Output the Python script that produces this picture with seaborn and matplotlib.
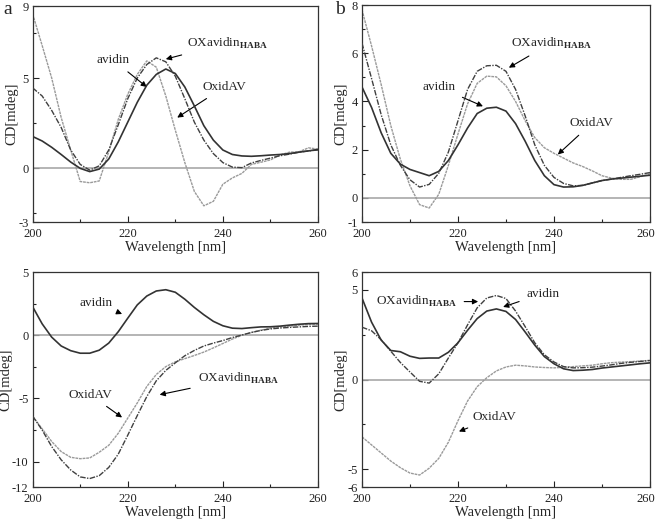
import numpy as np
import pandas as pd
import matplotlib
matplotlib.use("Agg")
import matplotlib.pyplot as plt
import matplotlib.transforms as mtransforms
import seaborn as sns

wavelength = list(range(200, 261, 2))

# panel a
a_avidin = [1.75, 1.50, 1.15, 0.75, 0.33, -0.02, -0.20, -0.06, 0.50, 1.45, 2.55, 3.65, 4.60, 5.20, 5.50, 5.25,
            4.50, 3.45, 2.35, 1.55, 1.00, 0.75, 0.67, 0.65, 0.68, 0.72, 0.75, 0.80, 0.88, 0.95, 1.03]
a_oxavidin = [4.45, 4.00, 3.20, 2.25, 1.00, 0.20, -0.12, 0.12, 1.00, 2.40, 3.85, 5.00, 5.75, 6.12, 5.90, 5.10,
              3.85, 2.55, 1.55, 0.80, 0.30, 0.05, 0.02, 0.28, 0.42, 0.55, 0.68, 0.77, 0.88, 0.95, 1.00]
a_oxidav = [8.55, 6.80, 5.00, 2.80, 1.00, -0.75, -0.82, -0.72, 0.90, 2.70, 4.10, 5.20, 5.95, 5.60, 4.00, 2.10,
            0.30, -1.30, -2.10, -1.85, -0.90, -0.55, -0.30, 0.20, 0.32, 0.45, 0.72, 0.88, 0.90, 1.12, 1.05]

# panel b
b_avidin = [4.60, 3.75, 2.70, 1.85, 1.40, 1.18, 1.05, 0.92, 1.10, 1.55, 2.20, 2.90, 3.50, 3.72, 3.76, 3.60,
            3.08, 2.35, 1.55, 0.92, 0.55, 0.45, 0.46, 0.52, 0.62, 0.72, 0.78, 0.82, 0.86, 0.90, 0.94]
b_oxavidin = [6.42, 4.95, 3.45, 2.20, 1.35, 0.75, 0.45, 0.56, 1.02, 1.90, 3.20, 4.50, 5.25, 5.48, 5.50, 5.25,
              4.50, 3.40, 2.20, 1.35, 0.85, 0.60, 0.50, 0.52, 0.62, 0.72, 0.78, 0.85, 0.92, 0.98, 1.05]
b_oxidav = [7.80, 6.30, 4.70, 3.00, 1.60, 0.50, -0.28, -0.42, 0.15, 1.35, 2.65, 3.90, 4.75, 5.05, 5.02, 4.65,
            4.00, 3.20, 2.50, 2.08, 1.85, 1.65, 1.45, 1.30, 1.12, 0.92, 0.82, 0.77, 0.77, 0.88, 1.00]

# panel c
c_avidin = [2.25, 0.90, -0.15, -0.85, -1.22, -1.42, -1.42, -1.18, -0.62, 0.28, 1.35, 2.40, 3.10, 3.50, 3.60, 3.40,
            2.85, 2.20, 1.62, 1.10, 0.75, 0.56, 0.53, 0.60, 0.66, 0.67, 0.72, 0.80, 0.87, 0.92, 0.93]
c_oxavidin = [-6.40, -7.50, -8.80, -9.85, -10.65, -11.20, -11.33, -11.10, -10.45, -9.40, -7.90, -6.35, -4.85,
              -3.60, -2.78, -2.18, -1.62, -1.20, -0.85, -0.62, -0.42, -0.18, 0.02, 0.22, 0.38, 0.50, 0.57, 0.62,
              0.66, 0.70, 0.72]
c_oxidav = [-6.40, -7.40, -8.40, -9.20, -9.65, -9.76, -9.70, -9.25, -8.70, -7.75, -6.55, -5.35, -4.05, -3.10,
            -2.48, -2.10, -1.85, -1.60, -1.33, -1.00, -0.65, -0.30, 0.00, 0.22, 0.40, 0.56, 0.66, 0.72, 0.80,
            0.85, 0.88]

# panel d
d_avidin = [4.55, 3.20, 2.20, 1.62, 1.55, 1.30, 1.18, 1.20, 1.20, 1.52, 2.05, 2.75, 3.40, 3.82, 3.94, 3.80,
            3.35, 2.65, 1.92, 1.28, 0.88, 0.60, 0.50, 0.52, 0.56, 0.64, 0.70, 0.76, 0.82, 0.88, 0.93]
d_oxavidin = [2.92, 2.72, 2.22, 1.58, 0.95, 0.42, -0.10, -0.20, 0.32, 1.20, 2.05, 3.05, 4.00, 4.55, 4.69, 4.52,
              3.82, 2.95, 2.05, 1.38, 0.98, 0.72, 0.65, 0.66, 0.69, 0.75, 0.82, 0.90, 0.96, 1.01, 1.06]
d_oxidav = [-3.20, -3.65, -4.10, -4.55, -4.92, -5.22, -5.33, -4.95, -4.40, -3.50, -2.30, -1.20, -0.40, 0.10,
            0.48, 0.70, 0.80, 0.76, 0.70, 0.67, 0.65, 0.68, 0.72, 0.76, 0.80, 0.88, 0.94, 0.97, 1.00, 1.03, 1.07]

sns.set_style("ticks")
plt.rcParams["font.family"] = ["Liberation Serif", "DejaVu Serif"]
plt.rcParams["mathtext.fontset"] = "custom"
plt.rcParams["mathtext.rm"] = "Liberation Serif"
plt.rcParams["mathtext.bf"] = "Liberation Serif:bold"

OX_LABEL = r"OXavidin$_{\mathbf{HABA}}$"

panels = [
    dict(pos=[0.0498, 0.5747, 0.4349, 0.4138], data=(a_avidin, a_oxavidin, a_oxidav),
         ylim=(-3, 9), major=[-3, 0, 5, 9], minor=[-2.5, 2.5, 7.5],
         notes=[("avidin", (216.9, 6.0), (224.0, 4.5)),
                (OX_LABEL, (240.9, 6.94), (228.0, 6.05)),
                ("OxidAV", (240.3, 4.5), (230.4, 2.8))]),
    dict(pos=[0.5518, 0.5747, 0.4390, 0.4157], data=(b_avidin, b_oxavidin, b_oxidav),
         ylim=(-1, 8), major=[-1, 0, 2, 4, 6, 8], minor=[1, 3, 5, 7],
         notes=[("avidin", (216.0, 4.6), (225.2, 3.8)),
                (OX_LABEL, (239.4, 6.42), (230.6, 5.4)),
                ("OxidAV", (247.9, 3.1), (240.8, 1.8))]),
    dict(pos=[0.0498, 0.0670, 0.4349, 0.4119], data=(c_avidin, c_oxavidin, c_oxidav),
         ylim=(-12, 5), major=[-12, -10, -5, 0, 5], minor=[-7.5, -2.5, 2.5],
         notes=[("avidin", (213.3, 2.57), (218.8, 1.68)),
                (OX_LABEL, (243.2, -3.4), (226.7, -4.7)),
                ("OxidAV", (212.1, -4.7), (218.8, -6.5))]),
    dict(pos=[0.5518, 0.0670, 0.4390, 0.4119], data=(d_avidin, d_oxavidin, d_oxidav),
         ylim=(-6, 6), major=[-6, -5, 0, 5, 6], minor=[-2.5, 2.5],
         notes=[(OX_LABEL, (211.3, 4.35), (224.2, 4.35)),
                ("avidin", (237.7, 4.8), (229.4, 4.05)),
                ("OxidAV", (227.7, -2.1), (220.2, -2.9))]),
]

fig = plt.figure(figsize=(6.56, 5.22), dpi=100)
shift_left = mtransforms.ScaledTranslation(-4 / 100, 0, fig.dpi_scale_trans)

for p in panels:
    ax = fig.add_axes(p["pos"])
    avid, oxav, oxid = p["data"]
    ax.axhline(0, color="#a8a8a8", lw=1.2, zorder=1)
    sns.lineplot(x=wavelength, y=oxid, ax=ax, color="#9a9a9a", lw=1.0, linestyle=(0, (2, 0.6)), zorder=2)
    sns.lineplot(x=wavelength, y=oxav, ax=ax, color="#404040", lw=1.0, linestyle=(0, (4, 1, 1, 1)), zorder=3)
    sns.lineplot(x=wavelength, y=avid, ax=ax, color="#333333", lw=1.2, zorder=4)
    ax.set_xlim(200, 260)
    ax.set_ylim(*p["ylim"])
    ax.set_xticks([200, 220, 240, 260])
    ax.set_xticks([210, 230, 250], minor=True)
    ax.set_yticks(p["major"])
    ax.set_yticklabels([str(v) for v in p["major"]])
    ax.set_yticks(p["minor"], minor=True)
    ax.tick_params(which="both", direction="in", labelsize=9, colors="#222222", width=0.8)
    ax.tick_params(which="major", length=4, pad=3)
    ax.tick_params(axis="x", which="major", pad=4)
    ax.tick_params(which="minor", length=2.5)
    if p["pos"][0] > 0.5:
        last = ax.get_xticklabels()[-1]
        last.set_transform(last.get_transform() + shift_left)
    for s in ax.spines.values():
        s.set_color("#333333")
        s.set_linewidth(0.9)
    ax.set_xlabel("Wavelength [nm]", fontsize=10.5, labelpad=1)
    ax.set_ylabel("CD[mdeg]", fontsize=10.5, labelpad=0)
    for label, txt, tip in p["notes"]:
        ax.annotate(label, xy=tip, xytext=txt, ha="center", va="center", fontsize=9.5,
                    arrowprops=dict(arrowstyle="-|>", color="black", lw=0.8,
                                    mutation_scale=8, shrinkA=3, shrinkB=0))

fig.text(8 / 656, 1 - 10 / 522, "a", fontsize=14, ha="center", va="center")
fig.text(340 / 656, 1 - 10 / 522, "b", fontsize=14, ha="center", va="center")

plt.savefig("out.png", dpi=100)
plt.close()
